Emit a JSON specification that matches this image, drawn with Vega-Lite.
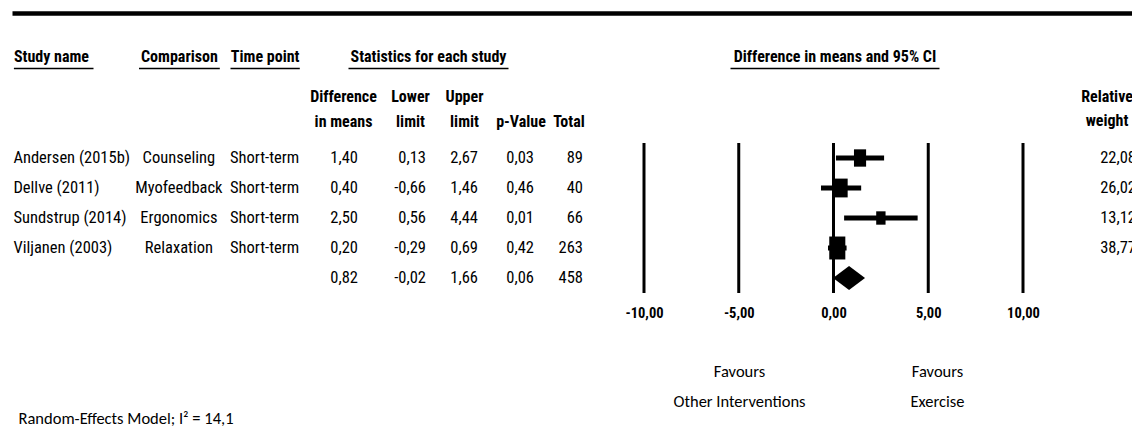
{
  "$schema": "https://vega.github.io/schema/vega-lite/v6.json",
  "width": 1132,
  "height": 150,
  "autosize": {"type": "none"},
  "padding": {"left": 0, "top": 143, "right": 0, "bottom": 146},
  "background": "white",
  "datasets": {
    "studies": [
      {"id": 1, "kind": "study", "study": "Andersen (2015b)", "comparison": "Counseling", "timepoint": "Short-term", "diff": 1.40, "lower": 0.13, "upper": 2.67, "p": 0.03, "total": 89, "weight": 22.08},
      {"id": 2, "kind": "study", "study": "Dellve (2011)", "comparison": "Myofeedback", "timepoint": "Short-term", "diff": 0.40, "lower": -0.66, "upper": 1.46, "p": 0.46, "total": 40, "weight": 26.02},
      {"id": 3, "kind": "study", "study": "Sundstrup (2014)", "comparison": "Ergonomics", "timepoint": "Short-term", "diff": 2.50, "lower": 0.56, "upper": 4.44, "p": 0.01, "total": 66, "weight": 13.12},
      {"id": 4, "kind": "study", "study": "Viljanen (2003)", "comparison": "Relaxation", "timepoint": "Short-term", "diff": 0.20, "lower": -0.29, "upper": 0.69, "p": 0.42, "total": 263, "weight": 38.77},
      {"id": 5, "kind": "summary", "study": "", "comparison": "", "timepoint": "", "diff": 0.82, "lower": -0.02, "upper": 1.66, "p": 0.06, "total": 458}
    ],
    "ticks": [{"tick": -10}, {"tick": -5}, {"tick": 0}, {"tick": 5}, {"tick": 10}]
  },
  "data": {"name": "studies"},
  "config": {
    "view": {"stroke": null},
    "font": "Roboto Condensed, DejaVu Sans Condensed, sans-serif",
    "locale": {"number": {"decimal": ",", "thousands": ".", "grouping": [3], "currency": ["", " €"], "minus": "-"}},
    "axis": {
      "titleFont": "Roboto Condensed, DejaVu Sans Condensed, sans-serif",
      "titleFontSize": 16,
      "titleFontWeight": "bold",
      "titleColor": "black",
      "labelFont": "Roboto Condensed, DejaVu Sans Condensed, sans-serif",
      "labelColor": "black",
      "domainColor": "black"
    }
  },
  "resolve": {
    "scale": {"x": "independent", "y": "independent"},
    "axis": {"x": "independent", "y": "independent"}
  },
  "layer": [
    {
      "data": {"name": "ticks"},
      "mark": {"type": "rule", "color": "black", "strokeWidth": 3},
      "encoding": {
        "x": {
          "field": "tick", "type": "quantitative",
          "scale": {"domain": [-10, 10], "range": [644, 1023], "zero": false, "nice": false},
          "axis": {"orient": "bottom", "values": [-10, -5, 0, 5, 10], "format": ".2f", "labels": true, "labelFontSize": 14.5, "labelFontWeight": "bold", "labelPadding": 13, "labelFlush": false, "labelOverlap": false, "labelBound": false, "domain": false, "ticks": false, "grid": false, "title": null}
        }
      }
    },
    {
      "transform": [{"filter": "datum.kind == 'study'"}],
      "mark": {"type": "rule", "color": "black", "strokeWidth": 5},
      "encoding": {
        "x": {
          "field": "lower", "type": "quantitative",
          "scale": {"domain": [-25.6201, -17.1768], "range": [348, 508], "zero": false, "nice": false},
          "axis": {"orient": "top", "offset": 75, "domain": true, "domainWidth": 1.5, "ticks": false, "labels": false, "grid": false, "title": "Statistics for each study", "titleY": -7, "titleBaseline": "alphabetic", "titleAnchor": "middle", "titleAlign": "center"}
        },
        "x2": {"field": "upper"},
        "y": {
          "field": "id", "type": "ordinal",
          "scale": {"type": "point", "padding": 0.5, "domain": [1, 2, 3, 4, 5]},
          "axis": {"orient": "left", "domain": false, "ticks": false, "labels": false, "grid": false, "title": "Random-Effects Model; I² = 14,1", "titleFont": "Carlito, Lato, sans-serif", "titleAngle": 0, "titleX": 18, "titleY": 280, "titleAlign": "left", "titleBaseline": "alphabetic", "titleFontWeight": "normal", "titleFontSize": 16.5}
        }
      }
    },
    {
      "transform": [{"filter": "datum.kind == 'study'"}],
      "mark": {"type": "point", "shape": "M-0.7,-1L0.7,-1L0.7,1L-0.7,1Z", "filled": true, "color": "black", "opacity": 1, "strokeWidth": 0},
      "encoding": {
        "x": {
          "field": "diff", "type": "quantitative",
          "scale": {"domain": [-43.3509, 16.1741], "range": [12, 1140], "zero": false, "nice": false},
          "axis": {"orient": "top", "offset": 130, "domain": true, "domainWidth": 4.5, "ticks": false, "labels": false, "grid": false, "title": null}
        },
        "size": {"field": "weight", "type": "quantitative", "scale": {"domain": [0, 40], "range": [0, 544]}, "legend": null},
        "y": {
          "field": "id", "type": "ordinal",
          "scale": {"type": "point", "padding": 0.5, "domain": [1, 2, 3, 4, 5]},
          "axis": {"orient": "left", "domain": false, "ticks": false, "labels": false, "grid": false, "title": ["Favours", "Other Interventions"], "titleFont": "Carlito, Lato, sans-serif", "titleAngle": 0, "titleX": 739, "titleY": 220, "titleAlign": "center", "titleBaseline": "top", "titleLineHeight": 30, "titleFontWeight": "normal", "titleFontSize": 16.5}
        }
      }
    },
    {
      "transform": [{"filter": "datum.kind == 'summary'"}],
      "mark": {"type": "point", "shape": "M-1,0L0,-0.75L1,0L0,0.75Z", "filled": true, "color": "black", "opacity": 1, "size": 1024, "strokeWidth": 0},
      "encoding": {
        "x": {
          "field": "diff", "type": "quantitative",
          "scale": {"domain": [-5.4617, 5.5673], "range": [730, 939], "zero": false, "nice": false},
          "axis": {"orient": "top", "offset": 75, "domain": true, "domainWidth": 1.5, "ticks": false, "labels": false, "grid": false, "title": "Difference in means and 95% CI", "titleY": -7, "titleBaseline": "alphabetic", "titleAnchor": "middle", "titleAlign": "center"}
        },
        "y": {
          "field": "id", "type": "ordinal",
          "scale": {"type": "point", "padding": 0.5, "domain": [1, 2, 3, 4, 5]},
          "axis": {"orient": "left", "domain": false, "ticks": false, "labels": false, "grid": false, "title": ["Favours", "Exercise"], "titleFont": "Carlito, Lato, sans-serif", "titleAngle": 0, "titleX": 937, "titleY": 220, "titleAlign": "center", "titleBaseline": "top", "titleLineHeight": 30, "titleFontWeight": "normal", "titleFontSize": 16.5}
        }
      }
    },
    {
      "transform": [{"filter": "datum.kind == 'study'"}],
      "mark": {"type": "text", "align": "left", "fontSize": 16.5, "color": "black"},
      "encoding": {
        "x": {"datum": 0, "type": "quantitative", "scale": {"domain": [0, 1], "range": [13.4, 93]},
          "axis": {"orient": "top", "offset": 75, "domain": true, "domainWidth": 1.5, "ticks": false, "labels": false, "grid": false, "title": "Study name", "titleY": -7, "titleBaseline": "alphabetic", "titleAnchor": "start", "titleAlign": "left"}},
        "y": {"field": "id", "type": "ordinal", "scale": {"type": "point", "padding": 0.5, "domain": [1, 2, 3, 4, 5]}, "axis": null},
        "text": {"field": "study"}
      }
    },
    {
      "transform": [{"filter": "datum.kind == 'study'"}],
      "mark": {"type": "text", "align": "center", "fontSize": 16.5, "color": "black"},
      "encoding": {
        "x": {"datum": 0.5, "type": "quantitative", "scale": {"domain": [0, 1], "range": [138.5, 219.3]},
          "axis": {"orient": "top", "offset": 75, "domain": true, "domainWidth": 1.5, "ticks": false, "labels": false, "grid": false, "title": "Comparison", "titleY": -7, "titleBaseline": "alphabetic", "titleAnchor": "middle", "titleAlign": "center"}},
        "y": {"field": "id", "type": "ordinal", "scale": {"type": "point", "padding": 0.5, "domain": [1, 2, 3, 4, 5]}, "axis": null},
        "text": {"field": "comparison"}
      }
    },
    {
      "transform": [{"filter": "datum.kind == 'study'"}],
      "mark": {"type": "text", "align": "left", "fontSize": 16.5, "color": "black"},
      "encoding": {
        "x": {"datum": 0, "type": "quantitative", "scale": {"domain": [0, 1], "range": [230, 299.3]},
          "axis": {"orient": "top", "offset": 75, "domain": true, "domainWidth": 1.5, "ticks": false, "labels": false, "grid": false, "title": "Time point", "titleY": -7, "titleBaseline": "alphabetic", "titleAnchor": "middle", "titleAlign": "center"}},
        "y": {"field": "id", "type": "ordinal", "scale": {"type": "point", "padding": 0.5, "domain": [1, 2, 3, 4, 5]}, "axis": null},
        "text": {"field": "timepoint"}
      }
    },
    {
      "mark": {"type": "text", "align": "right", "fontSize": 16.5, "color": "black"},
      "encoding": {
        "x": {"datum": 1, "type": "quantitative", "scale": {"domain": [0, 1], "range": [328, 358]},
          "axis": {"orient": "top", "domain": false, "ticks": false, "labels": false, "grid": false, "title": ["Difference", "in means"], "titleY": -55, "titleBaseline": "top", "titleLineHeight": 25, "titleAnchor": "middle", "titleAlign": "center"}},
        "y": {"field": "id", "type": "ordinal", "scale": {"type": "point", "padding": 0.5, "domain": [1, 2, 3, 4, 5]}, "axis": null},
        "text": {"field": "diff", "type": "quantitative", "format": ".2f"}
      }
    },
    {
      "mark": {"type": "text", "align": "right", "fontSize": 16.5, "color": "black"},
      "encoding": {
        "x": {"datum": 1, "type": "quantitative", "scale": {"domain": [0, 1], "range": [394, 426]},
          "axis": {"orient": "top", "domain": false, "ticks": false, "labels": false, "grid": false, "title": ["Lower", "limit"], "titleY": -55, "titleBaseline": "top", "titleLineHeight": 25, "titleAnchor": "middle", "titleAlign": "center"}},
        "y": {"field": "id", "type": "ordinal", "scale": {"type": "point", "padding": 0.5, "domain": [1, 2, 3, 4, 5]}, "axis": null},
        "text": {"field": "lower", "type": "quantitative", "format": ".2f"}
      }
    },
    {
      "mark": {"type": "text", "align": "right", "fontSize": 16.5, "color": "black"},
      "encoding": {
        "x": {"datum": 1, "type": "quantitative", "scale": {"domain": [0, 1], "range": [450, 478]},
          "axis": {"orient": "top", "domain": false, "ticks": false, "labels": false, "grid": false, "title": ["Upper", "limit"], "titleY": -55, "titleBaseline": "top", "titleLineHeight": 25, "titleAnchor": "middle", "titleAlign": "center"}},
        "y": {"field": "id", "type": "ordinal", "scale": {"type": "point", "padding": 0.5, "domain": [1, 2, 3, 4, 5]}, "axis": null},
        "text": {"field": "upper", "type": "quantitative", "format": ".2f"}
      }
    },
    {
      "mark": {"type": "text", "align": "right", "fontSize": 16.5, "color": "black"},
      "encoding": {
        "x": {"datum": 1, "type": "quantitative", "scale": {"domain": [0, 1], "range": [507, 534]},
          "axis": {"orient": "top", "domain": false, "ticks": false, "labels": false, "grid": false, "title": "p-Value", "titleY": -30, "titleBaseline": "top", "titleAnchor": "middle", "titleAlign": "center"}},
        "y": {"field": "id", "type": "ordinal", "scale": {"type": "point", "padding": 0.5, "domain": [1, 2, 3, 4, 5]}, "axis": null},
        "text": {"field": "p", "type": "quantitative", "format": ".2f"}
      }
    },
    {
      "mark": {"type": "text", "align": "right", "fontSize": 16.5, "color": "black"},
      "encoding": {
        "x": {"datum": 1, "type": "quantitative", "scale": {"domain": [0, 1], "range": [554, 583]},
          "axis": {"orient": "top", "domain": false, "ticks": false, "labels": false, "grid": false, "title": "Total", "titleY": -30, "titleBaseline": "top", "titleAnchor": "middle", "titleAlign": "center"}},
        "y": {"field": "id", "type": "ordinal", "scale": {"type": "point", "padding": 0.5, "domain": [1, 2, 3, 4, 5]}, "axis": null},
        "text": {"field": "total", "type": "quantitative", "format": "d"}
      }
    },
    {
      "transform": [{"filter": "datum.kind == 'study'"}],
      "mark": {"type": "text", "align": "right", "fontSize": 16.5, "color": "black"},
      "encoding": {
        "x": {"datum": 1, "type": "quantitative", "scale": {"domain": [0, 1], "range": [1077, 1136]},
          "axis": {"orient": "top", "domain": false, "ticks": false, "labels": false, "grid": false, "title": ["Relative", "weight"], "titleY": -55, "titleBaseline": "top", "titleLineHeight": 24, "titleAnchor": "middle", "titleAlign": "center"}},
        "y": {"field": "id", "type": "ordinal", "scale": {"type": "point", "padding": 0.5, "domain": [1, 2, 3, 4, 5]}, "axis": null},
        "text": {"field": "weight", "type": "quantitative", "format": ".2f"}
      }
    }
  ]
}
